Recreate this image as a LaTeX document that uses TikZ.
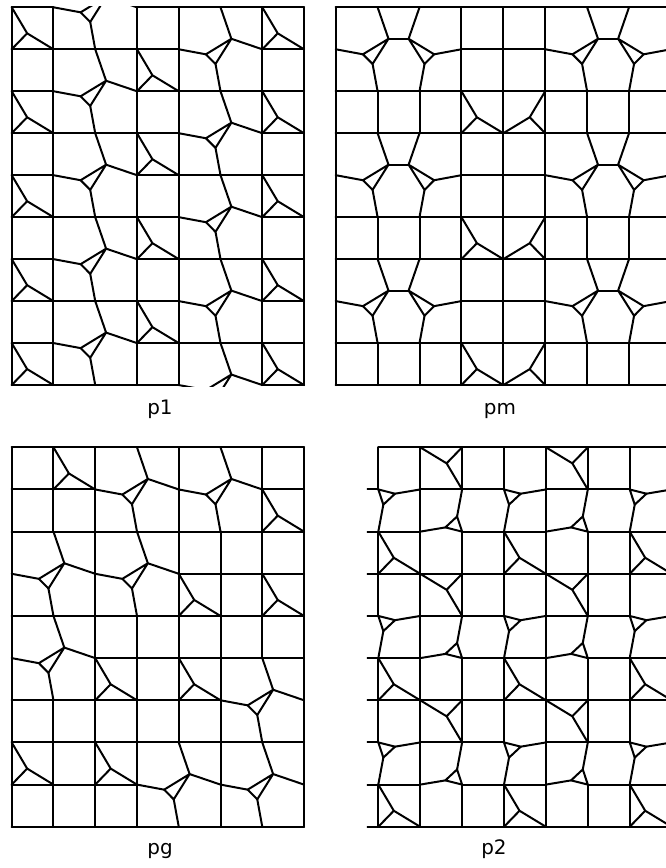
\documentclass[tikz,border=0pt]{standalone}
\usepackage{fontspec}
\setmainfont{DejaVu Sans}

\begin{document}
\begin{tikzpicture}[
  x=0.03cm, y=-0.03cm,
  ln/.style={line width=1.7pt, line cap=round, line join=round},
  lbl/.style={font=\fontsize{17}{20}\selectfont, anchor=base},
  % three-armed mark in one cell, placed at the cell centre
  ymark/.pic={
    \draw[ln] (-0.5,-0.5) -- (-0.13,0.12) -- (-0.5,0.5)
              (-0.13,0.12) -- (0.5,0.5);
  },
  % grid vertex split into a small triangle, with its four arms
  tri/.pic={
    \draw[ln] (-0.35,0.12) -- (0.26,-0.25) -- (-0.12,0.35) -- cycle;
    \draw[ln] (-1,0) -- (-0.35,0.12)
              (0.26,-0.25) -- (1,0)
              (0.26,-0.25) -- (0,-1)
              (-0.12,0.35) -- (0,1);
  },
  % two split vertices side by side, mirror images, joined by a bridge
  tripair/.pic={
    \draw[ln] (-0.35,0.12) -- (0.26,-0.25) -- (-0.12,0.35) -- cycle;
    \draw[ln] (-1,0) -- (-0.35,0.12)
              (0.26,-0.25) -- (0,-1)
              (-0.12,0.35) -- (0,1);
    \draw[ln] (1.35,0.12) -- (0.74,-0.25) -- (1.12,0.35) -- cycle;
    \draw[ln] (2,0) -- (1.35,0.12)
              (0.74,-0.25) -- (1,-1)
              (1.12,0.35) -- (1,1);
    \draw[ln] (0.26,-0.25) -- (0.74,-0.25);
  },
  % small split vertex keeping one corner on the grid point
  smalltri/.pic={
    \draw[ln] (0,0) -- (0.4,0.1) -- (0.12,0.36) -- cycle;
    \draw[ln] (0.4,0.1) -- (1,0)
              (0.12,0.36) -- (0,1);
  },
]

  \useasboundingbox (0,0) rectangle (665,868);

  % Panel p1

  \begin{scope}[shift={(11.7,7.3)}, x={(1.2528cm,0)}, y={(0,-1.2591cm)}]
    \clip (-0.03,-0.03) rectangle (7.03,9.03);
    \foreach \i in {0,1,3,4,6,7} \draw[ln] (\i,0) -- (\i,9);
    \foreach \j in {0,2,...,8} \draw[ln] (0,\j) -- (1,\j) (3,\j) -- (7,\j);
    \foreach \j in {1,3,...,9} \draw[ln] (0,\j) -- (4,\j) (6,\j) -- (7,\j);

    \foreach \j in {0,2,...,8} \pic at (2,\j) {tri};
    \foreach \j in {1,3,...,9} \pic at (5,\j) {tri};

    \foreach \j in {0,2,...,8} {
      \pic at (0.5,\j+0.5) {ymark};
      \pic at (6.5,\j+0.5) {ymark};
    }
    \foreach \j in {1,3,5,7} \pic at (3.5,\j+0.5) {ymark};
  \end{scope}

  % Panel pm

  \begin{scope}[shift={(335.7,7.3)}, x={(1.257cm,0)}, y={(0,-1.2591cm)}]
    \clip (-0.03,-0.03) rectangle (7.95,9.03);
    \foreach \i in {0,3,4,5} \draw[ln] (\i,0) -- (\i,9);
    \foreach \i in {1,2,6,7}
      \draw[ln] (\i,2) -- (\i,3) (\i,5) -- (\i,6) (\i,8) -- (\i,9);
    \foreach \j in {0,2,3,5,6,8,9} \draw[ln] (0,\j) -- (8,\j);
    \foreach \j in {1,4,7} \draw[ln] (3,\j) -- (5,\j);

    \foreach \j in {1,4,7} {
      \pic at (1,\j) {tripair};
      \pic at (6,\j) {tripair};
    }
    \foreach \j in {2,5,8} {
      \pic at (3.5,\j+0.5) {ymark};
      \pic[xscale=-1] at (4.5,\j+0.5) {ymark};
    }
  \end{scope}

  % Panel pg

  \begin{scope}[shift={(11.7,447.3)}, x={(1.2528cm,0)}, y={(0,-1.2648cm)}]
    \clip (-0.03,-0.03) rectangle (7.03,9.03);
    % columns
    \draw[ln] (0,0) -- (0,9)  (2,0) -- (2,9)  (7,0) -- (7,9);
    \draw[ln] (1,0) -- (1,2)  (1,6) -- (1,9);
    \draw[ln] (3,4) -- (3,9);
    \draw[ln] (4,0) -- (4,7);
    \draw[ln] (5,2) -- (5,9);
    \draw[ln] (6,0) -- (6,5);
    % rows
    \foreach \j in {0,2,4,7,9} \draw[ln] (0,\j) -- (7,\j);
    \draw[ln] (0,1) -- (2,1)  (6,1) -- (7,1);
    \draw[ln] (4,3) -- (7,3);
    \draw[ln] (2,5) -- (7,5);
    \draw[ln] (0,6) -- (5,6);
    \draw[ln] (0,8) -- (3,8);

    \foreach \x/\y in {3/1,5/1,1/3,3/3,1/5,6/6,4/8,6/8}
      \pic at (\x,\y) {tri};
    \foreach \x/\y in {1/0,6/1,4/3,6/3,2/5,4/5,0/7,2/7}
      \pic at (\x+0.5,\y+0.5) {ymark};
  \end{scope}

  % Panel p2

  \begin{scope}[shift={(378.3,447.3)}, x={(1.257cm,0)}, y={(0,-1.2648cm)}]
    \clip (-0.27,-0.03) rectangle (6.9,9.03);
    % columns
    \foreach \i in {1,4} \draw[ln] (\i,0) -- (\i,9);
    \foreach \i in {0,2,3,5,6}
      \draw[ln] (\i,0) -- (\i,1) (\i,2) -- (\i,4) (\i,5) -- (\i,7) (\i,8) -- (\i,9);
    % rows
    \draw[ln] (0,0) -- (7,0);
    \foreach \j in {3,6,9} \draw[ln] (-1,\j) -- (7,\j);
    \foreach \j in {1,4,7}
      \draw[ln] (-1,\j) -- (0,\j) (1,\j) -- (3,\j) (4,\j) -- (6,\j);
    \foreach \j in {2,5,8}
      \draw[ln] (-1,\j) -- (1,\j) (2,\j) -- (4,\j) (5,\j) -- (7,\j);

    \foreach \a in {0,3,6} \foreach \b in {0,3,6}
      \pic at (\a,\b+1) {smalltri};
    \foreach \a in {0,3} \foreach \b in {0,3,6}
      \pic[rotate=180] at (\a+2,\b+2) {smalltri};

    \foreach \a in {0,3,6} \foreach \b in {0,3,6}
      \pic at (\a+0.5,\b+2.5) {ymark};
    \foreach \a in {0,3} \foreach \b in {0,3,6}
      \pic[rotate=180] at (\a+1.5,\b+0.5) {ymark};
  \end{scope}

  % Labels

  \node[lbl] (lp1) at (160,414) {p1};
  \node[lbl] (lpm) at (500,414) {pm};
  \node[lbl] (lpg) at (160,854) {pg};
  \node[lbl] (lp2) at (494,854) {p2};

\end{tikzpicture}
\end{document}
